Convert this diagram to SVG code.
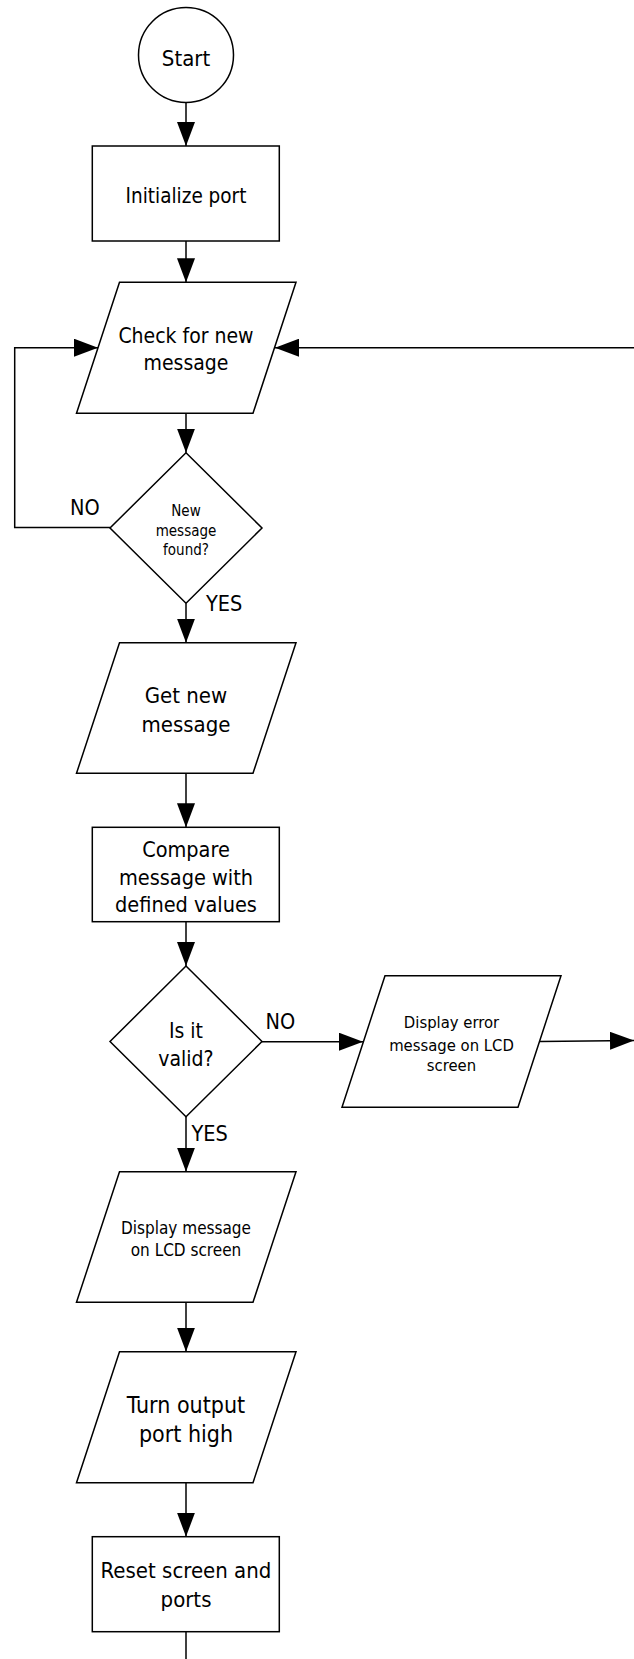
<svg xmlns="http://www.w3.org/2000/svg" width="634" height="1659" viewBox="0 0 634 1659">
<defs>
<style>
.shape{fill:#fff;stroke:#000;stroke-width:1.5}
.line{fill:none;stroke:#000;stroke-width:1.5}
text{font-family:"DejaVu Sans Condensed","DejaVu Sans",sans-serif;font-stretch:condensed;fill:#000;text-anchor:middle}
.lbl{text-anchor:start;font-size:21.5px}
</style>
<marker id="ah" markerUnits="userSpaceOnUse" markerWidth="24" markerHeight="18" refX="24" refY="9" orient="auto">
<path d="M0,0 L24,9 L0,18 z" fill="#000"/>
</marker>
</defs>
<rect width="634" height="1659" fill="#fff"/>
<g id="connectors">
<path class="line" d="M186,102.5 V146" marker-end="url(#ah)"/>
<path class="line" d="M186,241 V282.3" marker-end="url(#ah)"/>
<path class="line" d="M186,413.3 V452.7" marker-end="url(#ah)"/>
<path class="line" d="M110,527.5 H14.7 V347.7 H98" marker-end="url(#ah)"/>
<path class="line" d="M634,347.7 H275" marker-end="url(#ah)"/>
<path class="line" d="M186,603.3 V642.7" marker-end="url(#ah)"/>
<path class="line" d="M186,773.3 V827.3" marker-end="url(#ah)"/>
<path class="line" d="M186,921.7 V966" marker-end="url(#ah)"/>
<path class="line" d="M262,1041.7 H363" marker-end="url(#ah)"/>
<path class="line" d="M540,1041.5 L634,1040.5" marker-end="url(#ah)"/>
<path class="line" d="M186,1116.7 V1171.7" marker-end="url(#ah)"/>
<path class="line" d="M186,1302.3 V1351.7" marker-end="url(#ah)"/>
<path class="line" d="M186,1482.7 V1536.7" marker-end="url(#ah)"/>
<path class="line" d="M186,1631.7 V1659"/>
<text class="lbl" x="70" y="515">NO</text>
<text class="lbl" x="206" y="610.7">YES</text>
<text class="lbl" x="265.5" y="1029.3">NO</text>
<text class="lbl" x="191.5" y="1140.7">YES</text>
</g>
<g id="start">
<circle class="shape" cx="186" cy="55" r="47.5"/>
<text x="186" y="66" font-size="22">Start</text>
</g>
<g id="init">
<rect class="shape" x="92.3" y="146" width="187" height="95"/>
<text x="186" y="203.3" font-size="20.5">Initialize port</text>
</g>
<g id="check">
<polygon class="shape" points="119.5,282.3 296,282.3 253,413.3 76.5,413.3"/>
<text x="186" y="342.7" font-size="21">Check for new</text>
<text x="186" y="370" font-size="21">message</text>
</g>
<g id="found">
<polygon class="shape" points="186,452.7 262,528 186,603.3 110,528"/>
<text x="186" y="516" font-size="15">New</text>
<text x="186" y="535.5" font-size="15">message</text>
<text x="186" y="555" font-size="15">found?</text>
</g>
<g id="get">
<polygon class="shape" points="119.5,642.7 296,642.7 253,773.3 76.5,773.3"/>
<text x="186" y="703.3" font-size="22">Get new</text>
<text x="186" y="731.7" font-size="22">message</text>
</g>
<g id="compare">
<rect class="shape" x="92.3" y="827.3" width="187" height="94.4"/>
<text x="186" y="856.5" font-size="21.5">Compare</text>
<text x="186" y="884.5" font-size="21.5">message with</text>
<text x="186" y="912" font-size="21.5">defined values</text>
</g>
<g id="valid">
<polygon class="shape" points="186,966 262,1041.5 186,1116.7 110,1041.5"/>
<text x="186" y="1038.3" font-size="21">Is it</text>
<text x="186" y="1066" font-size="21">valid?</text>
</g>
<g id="error">
<polygon class="shape" points="385,975.7 561,975.7 518,1107.3 342,1107.3"/>
<text x="451.5" y="1028.3" font-size="16.5">Display error</text>
<text x="451.5" y="1050.7" font-size="16.5">message on LCD</text>
<text x="451.5" y="1070.7" font-size="16.5">screen</text>
</g>
<g id="display">
<polygon class="shape" points="119.5,1171.7 296,1171.7 253,1302.3 76.5,1302.3"/>
<text x="186" y="1234" font-size="17">Display message</text>
<text x="186" y="1255.7" font-size="17">on LCD screen</text>
</g>
<g id="turn">
<polygon class="shape" points="119.5,1351.7 296,1351.7 253,1482.7 76.5,1482.7"/>
<text x="186" y="1413.3" font-size="23">Turn output</text>
<text x="186" y="1441.7" font-size="23">port high</text>
</g>
<g id="reset">
<rect class="shape" x="92.3" y="1536.7" width="187" height="95"/>
<text x="186" y="1578.3" font-size="22">Reset screen and</text>
<text x="186" y="1606.7" font-size="22">ports</text>
</g>
</svg>
